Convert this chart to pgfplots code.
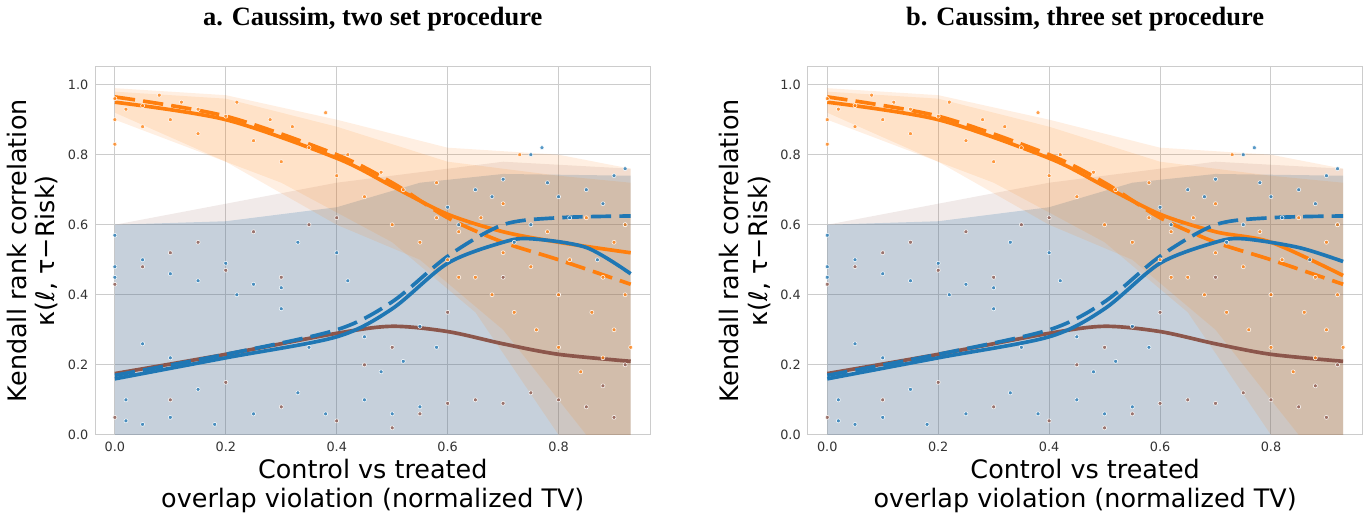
\documentclass[border=0pt]{standalone}
\usepackage{pgfplots}
\pgfplotsset{compat=1.18}
\usepackage{fontspec}
\setmainfont{DejaVu Sans}
\newfontfamily\serifb{Liberation Serif}
\definecolor{cb}{HTML}{1F77B4}
\definecolor{co}{HTML}{FF7F0E}
\definecolor{cr}{HTML}{8C564B}
\definecolor{gr}{HTML}{CCCCCC}
\pgfplotsset{pts/.style={only marks, mark=*, mark size=1pt, mark options={draw=white, line width=0.25pt, fill=#1, fill opacity=0.75}}}
\pgfplotsset{panel/.style={
  scale only axis, width=272.5pt, height=181pt,
  xmin=-0.035, xmax=0.965, ymin=0, ymax=1.052,
  xtick={0,0.2,...,0.8}, ytick={0,0.2,...,1.0},
  xticklabel style={/pgf/number format/.cd,fixed,fixed zerofill,precision=1},
  yticklabel style={/pgf/number format/.cd,fixed,fixed zerofill,precision=1},
  /pgf/number format/assume math mode=true,
  tick label style={font=\fontsize{6.3}{7}\selectfont, text=black!80},
  grid=major, grid style={gr, line width=0.5pt},
  axis line style={gr}, major tick length=0pt,
  label style={font=\fontsize{12.5}{14}\selectfont},
  xlabel={Control vs treated\\overlap violation (normalized TV)},
  xlabel style={align=center, yshift=3pt},
  title style={font=\serifb\bfseries\fontsize{13}{14}\selectfont, yshift=8pt},
  ylabel={Kendall rank correlation\\κ(ℓ, τ−Risk)}, ylabel style={align=center, yshift=-2pt},
  every axis plot/.append style={line width=1.8pt},
}}
\begin{document}
\begin{tikzpicture}
\foreach \px/\ttl/\os/\oe/\bs/\be in {0/a. Caussim{,} two set procedure/0.52/0.43/0.46/0.625, 350/b. Caussim{,} three set procedure/0.455/0.43/0.495/0.625}{
\begin{axis}[panel, at={(\px pt,0)}, title={\ttl}]
% bands
\addplot[draw=none, fill=cb, fill opacity=0.22] coordinates {(0,0) (0,0.6) (0.2,0.61) (0.4,0.65) (0.55,0.72) (0.7,0.745) (0.93,0.74) (0.93,0)} -- cycle;
\addplot[draw=none, fill=cr, fill opacity=0.12] coordinates {(0,0) (0,0.6) (0.2,0.66) (0.4,0.72) (0.55,0.75) (0.7,0.78) (0.93,0.76) (0.93,0)} -- cycle;
\addplot[draw=none, fill=co, fill opacity=0.12] coordinates {(0,0.99) (0.2,0.97) (0.4,0.9) (0.6,0.82) (0.8,0.8) (0.93,0.76) (0.93,0) (0.85,0) (0.7,0.3) (0.55,0.5) (0.4,0.6) (0.2,0.78) (0,0.92)} -- cycle;
\addplot[draw=none, fill=co, fill opacity=0.12] coordinates {(0,0.98) (0.2,0.96) (0.4,0.88) (0.6,0.78) (0.8,0.74) (0.93,0.72) (0.93,0) (0.8,0) (0.65,0.35) (0.5,0.55) (0.3,0.72) (0,0.9)} -- cycle;
% scatter
\addplot[pts=cb] coordinates {
(0,0.57)(0,0.48)(0,0.45)(0.02,0.04)(0.02,0.1)(0.05,0.5)(0.05,0.26)(0.05,0.03)(0.1,0.46)(0.1,0.22)(0.1,0.05)(0.15,0.44)(0.15,0.13)(0.18,0.03)(0.2,0.49)(0.22,0.4)(0.25,0.43)(0.25,0.06)(0.3,0.36)(0.3,0.42)(0.33,0.55)(0.33,0.12)(0.35,0.25)(0.38,0.06)(0.4,0.52)(0.42,0.44)(0.45,0.28)(0.45,0.1)(0.48,0.18)(0.5,0.06)(0.52,0.21)(0.55,0.31)(0.55,0.08)(0.58,0.25)(0.6,0.65)(0.62,0.6)(0.65,0.7)(0.68,0.68)(0.7,0.73)(0.72,0.55)(0.75,0.8)(0.77,0.82)(0.78,0.72)(0.8,0.68)(0.82,0.62)(0.85,0.7)(0.88,0.66)(0.9,0.74)(0.92,0.76)(0.92,0.6)(0.87,0.5)(0.75,0.6)};
\addplot[pts=cr] coordinates {
(0,0.43)(0,0.05)(0.05,0.48)(0.1,0.52)(0.1,0.1)(0.15,0.55)(0.2,0.47)(0.2,0.15)(0.25,0.58)(0.3,0.45)(0.3,0.08)(0.35,0.6)(0.4,0.62)(0.4,0.04)(0.45,0.2)(0.5,0.25)(0.5,0.02)(0.55,0.06)(0.6,0.09)(0.65,0.1)(0.7,0.09)(0.75,0.12)(0.8,0.1)(0.85,0.08)(0.88,0.14)(0.9,0.05)(0.92,0.2)(0.8,0.4)(0.7,0.45)(0.6,0.35)};
\addplot[pts=co] coordinates {
(0,0.96)(0,0.9)(0,0.83)(0.02,0.93)(0.05,0.94)(0.05,0.88)(0.08,0.97)(0.1,0.9)(0.12,0.95)(0.15,0.86)(0.15,0.93)(0.2,0.91)(0.22,0.95)(0.25,0.84)(0.28,0.9)(0.3,0.78)(0.32,0.88)(0.35,0.82)(0.38,0.92)(0.4,0.74)(0.42,0.8)(0.45,0.68)(0.48,0.75)(0.5,0.6)(0.52,0.7)(0.55,0.55)(0.58,0.62)(0.6,0.5)(0.62,0.58)(0.65,0.45)(0.66,0.62)(0.68,0.4)(0.7,0.52)(0.72,0.35)(0.73,0.8)(0.75,0.48)(0.76,0.3)(0.78,0.58)(0.8,0.4)(0.8,0.25)(0.82,0.5)(0.84,0.18)(0.85,0.62)(0.86,0.35)(0.88,0.45)(0.88,0.22)(0.9,0.55)(0.9,0.3)(0.92,0.4)(0.92,0.6)(0.93,0.25)(0.7,0.66)(0.62,0.45)(0.58,0.72)};
% lines
\addplot[co, smooth] coordinates {(0,0.95)(0.2,0.9)(0.4,0.79)(0.5,0.71)(0.6,0.63)(0.7,0.58)(0.8,0.55)(0.93,\os)};
\addplot[co, smooth, dash pattern=on 10pt off 4pt] coordinates {(0,0.965)(0.2,0.91)(0.4,0.8)(0.5,0.72)(0.6,0.62)(0.7,0.55)(0.8,0.5)(0.93,\oe)};
\addplot[cr, smooth] coordinates {(0,0.175)(0.2,0.23)(0.4,0.29)(0.5,0.31)(0.6,0.295)(0.7,0.26)(0.8,0.23)(0.93,0.21)};
\addplot[cb, smooth, dash pattern=on 10pt off 4pt] coordinates {(0,0.17)(0.2,0.23)(0.4,0.30)(0.5,0.38)(0.6,0.51)(0.7,0.6)(0.8,0.62)(0.93,\be)};
\addplot[cb, smooth] coordinates {(0,0.16)(0.2,0.22)(0.4,0.28)(0.5,0.36)(0.6,0.49)(0.7,0.55)(0.75,0.56)(0.85,0.535)(0.93,\bs)};
\end{axis}}
\end{tikzpicture}
\end{document}
